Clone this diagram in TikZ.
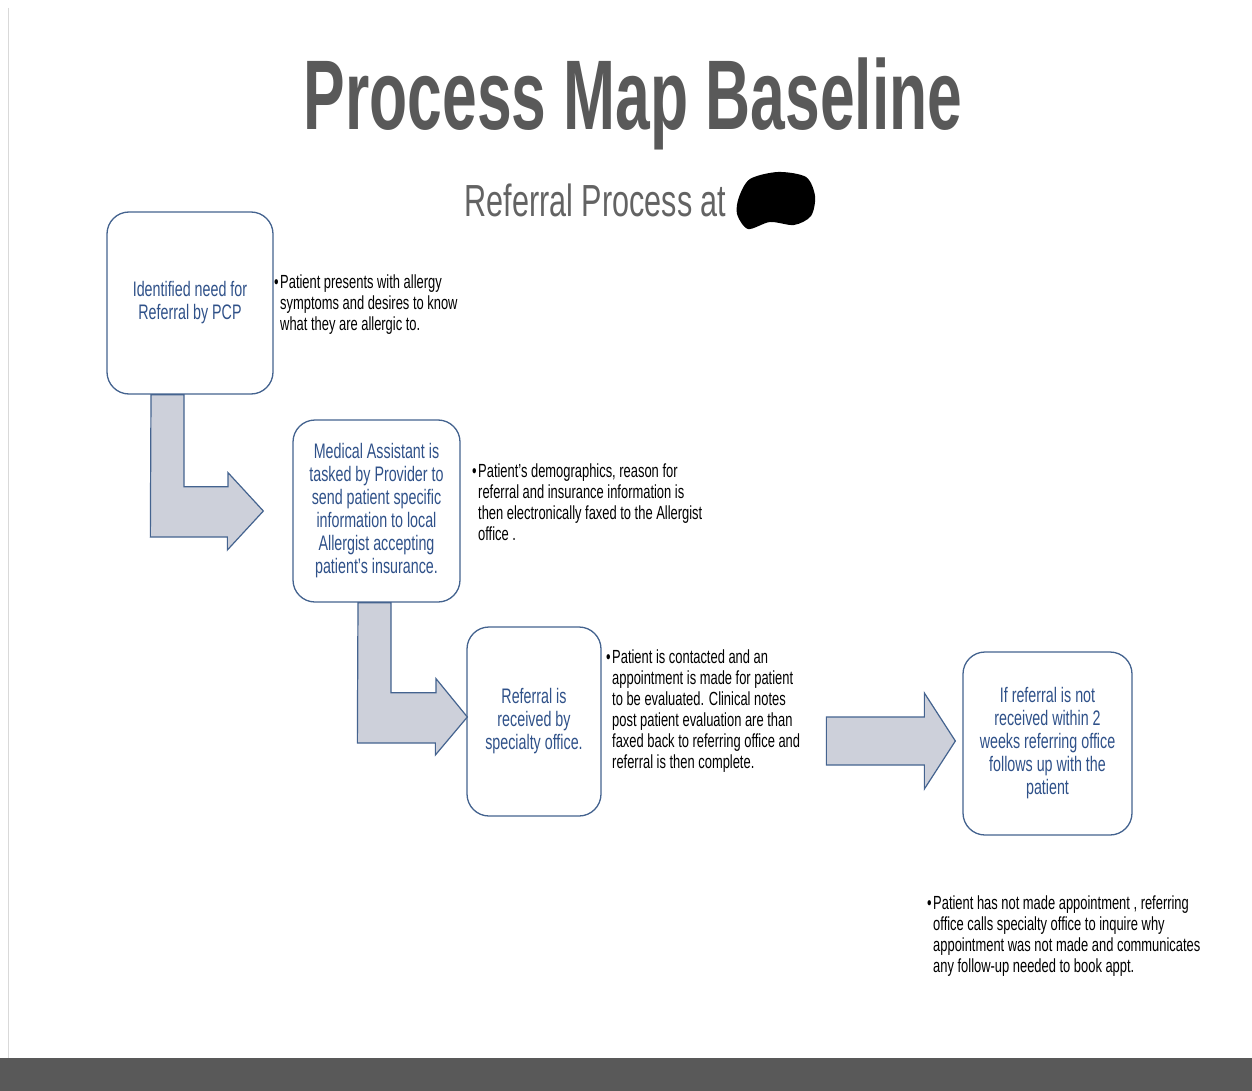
\documentclass[tikz,border=0pt]{standalone}
\usepackage{fontspec}
\setmainfont[FakeStretch=0.68]{Liberation Sans}
\newfontfamily\titlefont[FakeStretch=0.63]{Liberation Sans}
\usetikzlibrary{calc}

\definecolor{titlegray}{HTML}{595959}
\definecolor{subgray}{HTML}{636363}
\definecolor{boxline}{HTML}{44638F}
\definecolor{boxtext}{HTML}{2F5189}
\definecolor{arrowfill}{HTML}{CDD0DA}
\definecolor{arrowline}{HTML}{44638F}

\newcommand{\bul}{\llap{•\hspace{1.5pt}}}

\tikzset{
  procbox/.style={draw=boxline, line width=1.3pt, rounded corners=22pt, fill=white,
    align=center, text=boxtext, font=\fontsize{21}{23}\selectfont, inner sep=0pt},
  note/.style={anchor=north west, align=left, inner sep=0pt, font=\fontsize{19}{21}\selectfont},
  blockarr/.style={draw=arrowline, fill=arrowfill, line width=1.2pt, line join=miter},
}

\begin{document}
\begin{tikzpicture}[x=1pt,y=-1pt]
\useasboundingbox (0,0) rectangle (1252,1091);
% page frame
\draw[black!15, line width=1pt] (8,8) -- (8,1058);
\fill[titlegray] (0,1058) rectangle (1252,1091);

% headings
\node[anchor=base, text=titlegray, font=\titlefont\bfseries\fontsize{99}{99}\selectfont] (title) at (633,130) {Process Map Baseline};
\node[anchor=base west, text=subgray, font=\fontsize{45}{45}\selectfont] (subtitle) at (461,217) {Referral Process at};
\fill[black] plot[smooth cycle] coordinates {(739,197) (750,179) (778,172) (806,177) (815,196) (811,216) (794,225) (770,222) (748,229) (737,214)};

% process boxes
\node[procbox, minimum width=166pt, minimum height=182pt] (need) at (190,303) {Identified need for\\Referral by PCP};
\node[procbox, minimum width=167pt, minimum height=182pt] (assist) at (376.5,511) {Medical Assistant is\\tasked by Provider to\\send patient specific\\information to local\\Allergist accepting\\patient’s insurance.};
\node[procbox, minimum width=134pt, minimum height=189pt] (received) at (534,721.5) {Referral is\\received by\\specialty office.};
\node[procbox, minimum width=169pt, minimum height=183pt] (followup) at (1047.5,743.5) {If referral is not\\received within 2\\weeks referring office\\follows up with the\\patient};

% notes
\node[note] (noteneed) at (280,275) {\bul Patient presents with allergy\\symptoms and desires to know\\what they are allergic to.};
\node[note] (noteassist) at (478,464) {\bul Patient’s demographics, reason for\\referral and insurance information is\\then electronically faxed to the Allergist\\office .};
\node[note] (notereceived) at (612,650) {\bul Patient is contacted and an\\appointment is made for patient\\to be evaluated. Clinical notes\\post patient evaluation are than\\faxed back to referring office and\\referral is then complete.};
\node[note] (notefollowup) at (933,896) {\bul Patient has not made appointment , referring\\office calls specialty office to inquire why\\appointment was not made and communicates\\any follow-up needed to book appt.};

% block arrows
\draw[blockarr] ($(need.south)+(-39,0)$) -- ++(33,0) -- ++(0,92) -- ++(44,0) -- ++(0,-14)
  -- ($(assist.west)+(-29,0)$) -- ++(-36,39) -- ++(0,-13) -- ++(-77,0) -- cycle;
\draw[blockarr] ($(assist.south)+(-18.5,0)$) -- ++(33,0) -- ++(0,90) -- ++(45,0) -- ++(0,-14)
  -- ($(received.west)+(1,-4.5)$) -- ++(-32,38) -- ++(0,-12) -- ++(-78,0) -- cycle;
\draw[blockarr] ($(followup.west)+(-7,-2.5)$) -- ++(-31,-48) -- ++(0,24) -- ++(-98,0)
  -- ++(0,48) -- ++(98,0) -- ++(0,24) -- cycle;
\end{tikzpicture}
\end{document}
